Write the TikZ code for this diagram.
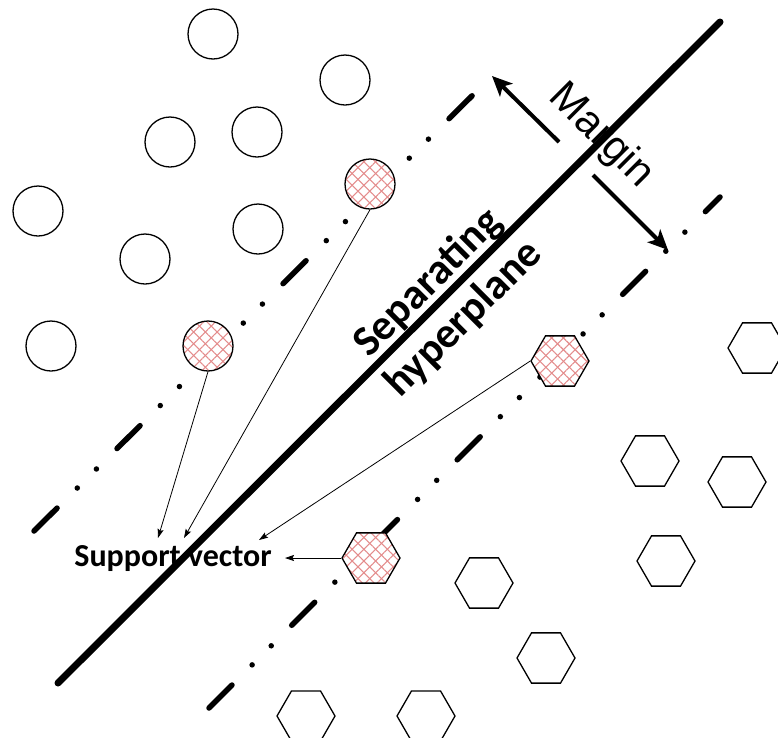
\documentclass[tikz,border=0pt]{standalone}
\usepackage{fontspec}
\newfontfamily\carlito{Carlito}
\newfontfamily\arialfont{Liberation Sans}
\usetikzlibrary{shapes.geometric,arrows.meta,patterns.meta}
\definecolor{hatchred}{RGB}{228,140,140}
\begin{document}
\begin{tikzpicture}[x=1pt,y=-1pt,
  base/.style={draw,line width=1.3pt,inner sep=0pt,preaction={fill=white}},
  circ/.style={base,circle,minimum size=50pt},
  hexa/.style={base,regular polygon,regular polygon sides=6,minimum size=58pt},
  hatched/.style={preaction={pattern={Lines[angle=45,distance=8.3pt,line width=1.1pt]},pattern color=hatchred},
                  preaction={pattern={Lines[angle=-45,distance=8.3pt,line width=1.1pt]},pattern color=hatchred}},
  marginline/.style={line width=5.5pt,line cap=round,dash pattern=on 32.5pt off 28.5pt on 0pt off 27pt on 0pt off 29pt},
  hyper/.style={line width=7pt,line cap=round},
  marrow/.style={line width=4pt,-{Stealth[length=20pt,width=18pt,inset=5pt]}},
  sarrow/.style={line width=0.8pt,-{Stealth[length=9pt,width=6pt,inset=1.5pt]}}
]
\useasboundingbox (0,0) rectangle (778,737);
% margin lines
\coordinate (u1) at (34,531);
\coordinate (u2) at (492,76);
\coordinate (l1) at (209,708);
\coordinate (l2) at (720,197);
\draw[marginline] (u1) -- (u2);
\draw[marginline] (l1) -- (l2);
% circles
\node[circ] (c1) at (213,34) {};
\node[circ] (c2) at (345,80) {};
\node[circ] (c3) at (170,142) {};
\node[circ] (c4) at (257,132) {};
\node[circ] (c5) at (38,211) {};
\node[circ] (c6) at (145,259) {};
\node[circ] (c7) at (258,229) {};
\node[circ] (c8) at (51,346) {};
\node[circ,hatched] (c9) at (370,184) {};
\node[circ,hatched] (c10) at (208,346) {};
% hexagons
\node[hexa] (h1) at (757,348) {};
\node[hexa] (h2) at (650,461) {};
\node[hexa] (h3) at (737,482) {};
\node[hexa] (h4) at (666,561) {};
\node[hexa] (h5) at (484,583) {};
\node[hexa] (h6) at (546,658) {};
\node[hexa] (h7) at (306,716) {};
\node[hexa] (h8) at (426,716) {};
\node[hexa,hatched] (hs1) at (560,361) {};
\node[hexa,hatched] (hs2) at (371,558) {};
% separating hyperplane
\coordinate (m1) at (58,683);
\coordinate (m2) at (720,22);
\draw[hyper] (m1) -- (m2);
% margin arrows
\coordinate (ma1) at (559,142);
\coordinate (ma2) at (492,76);
\coordinate (mb1) at (593,175);
\coordinate (mb2) at (668,250);
\draw[marrow] (ma1) -- (ma2);
\draw[marrow] (mb1) -- (mb2);
% texts
\node[rotate=-45,inner sep=0pt,font=\arialfont\fontsize{42}{48}\selectfont] (margin) at (601,136) {Margin};
\node[rotate=45,align=center,inner sep=0pt,font=\carlito\bfseries\fontsize{43}{51}\selectfont] (sep) at (446,301) {Separating\\hyperplane};
\node[inner sep=0pt,font=\carlito\bfseries\fontsize{32}{38}\selectfont] (sv) at (173,559) {Support vector};
% support vector arrows
\coordinate (t1) at (158,538);
\coordinate (t2) at (184,538);
\coordinate (t3) at (259,540);
\coordinate (t4) at (285,558);
\draw[sarrow] (c10.south) -- (t1);
\draw[sarrow] (c9.south) -- (t2);
\draw[sarrow] (hs1.west) -- (t3);
\draw[sarrow] (hs2.west) -- (t4);
\end{tikzpicture}
\end{document}
